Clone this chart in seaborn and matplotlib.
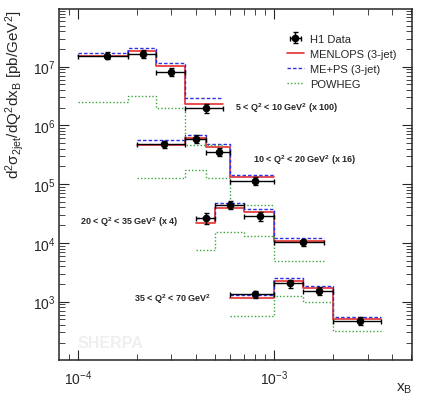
import numpy as np
import pandas as pd
import matplotlib
matplotlib.use("Agg")
import matplotlib.pyplot as plt
import seaborn as sns
from matplotlib.lines import Line2D
from matplotlib.ticker import LogLocator, NullFormatter

# =====================
# 1. DATA
# =====================
# x_B bin edges for the four Q^2 ranges
edges_q1 = [1.0e-4, 1.8e-4, 2.5e-4, 3.5e-4, 5.5e-4]
edges_q2 = [2.0e-4, 3.5e-4, 4.5e-4, 6.0e-4, 1.0e-3]
edges_q3 = [4.0e-4, 5.0e-4, 7.0e-4, 1.0e-3, 1.8e-3]
edges_q4 = [6.0e-4, 1.0e-3, 1.4e-3, 2.0e-3, 3.5e-3]

scale_factors = [100, 16, 4, 1]

# unscaled cross sections [pb/GeV^2]
h1_q1 = [1.54e5, 1.65e5, 8.2e4, 1.96e4]
h1_q2 = [3.0e4, 3.7e4, 2.23e4, 7.1e3]
h1_q3 = [6.6e3, 1.12e4, 7.1e3, 2.55e3]
h1_q4 = [1.34e3, 2.04e3, 1.53e3, 471]

h1_err_q1 = [0.14, 0.14, 0.14, 0.17]
h1_err_q2 = [0.14, 0.14, 0.15, 0.15]
h1_err_q3 = [0.20, 0.15, 0.17, 0.13]
h1_err_q4 = [0.14, 0.15, 0.16, 0.15]

menlops_q1 = [1.50e5, 1.83e5, 1.04e5, 2.32e4]
menlops_q2 = [2.9e4, 3.8e4, 2.65e4, 8.2e3]
menlops_q3 = [5.4e3, 9.7e3, 8.3e3, 2.72e3]
menlops_q4 = [1.15e3, 2.21e3, 1.68e3, 503]

meps_q1 = [1.69e5, 2.11e5, 1.17e5, 2.90e4]
meps_q2 = [3.56e4, 4.34e4, 3.01e4, 9.1e3]
meps_q3 = [6.6e3, 1.18e4, 9.4e3, 3.0e3]
meps_q4 = [1.31e3, 2.48e3, 1.84e3, 551]

powheg_q1 = [2.48e4, 3.13e4, 1.96e4, 4.63e3]
powheg_q2 = [7.9e3, 1.09e4, 7.9e3, 2.76e3]
powheg_q3 = [1.9e3, 3.8e3, 3.3e3, 1.24e3]
powheg_q4 = [560, 1.23e3, 969, 310]

q2_labels = [
    r"5 < Q$^\mathbf{2}$ < 10 GeV$^\mathbf{2}$ (x 100)",
    r"10 < Q$^\mathbf{2}$ < 20 GeV$^\mathbf{2}$ (x 16)",
    r"20 < Q$^\mathbf{2}$ < 35 GeV$^\mathbf{2}$ (x 4)",
    r"35 < Q$^\mathbf{2}$ < 70 GeV$^\mathbf{2}$",
]

edges = [edges_q1, edges_q2, edges_q3, edges_q4]
h1 = [h1_q1, h1_q2, h1_q3, h1_q4]
h1_err = [h1_err_q1, h1_err_q2, h1_err_q3, h1_err_q4]
models = {
    "MENLOPS (3-jet)": [menlops_q1, menlops_q2, menlops_q3, menlops_q4],
    "ME+PS (3-jet)": [meps_q1, meps_q2, meps_q3, meps_q4],
    "POWHEG": [powheg_q1, powheg_q2, powheg_q3, powheg_q4],
}
model_style = {
    "MENLOPS (3-jet)": dict(color="#e5302e", linestyle="-", linewidth=1.2),
    "ME+PS (3-jet)": dict(color="#3030e6", linestyle=(0, (2.5, 1.5)), linewidth=1.0),
    "POWHEG": dict(color="#3aa53a", linestyle=(0, (1, 1.5)), linewidth=1.0),
}


def step_frame(vals_by_group):
    rows = []
    for g, (e, v) in enumerate(zip(edges, vals_by_group)):
        yy = list(np.array(v) * scale_factors[g])
        yy = yy + [yy[-1]]
        for xx, y in zip(e, yy):
            rows.append({"x": xx, "y": y, "group": g})
    return pd.DataFrame(rows)


# =====================
# 2. PLOT
# =====================
sns.set_style("ticks")
plt.rcParams["font.family"] = ["Liberation Sans", "DejaVu Sans"]
plt.rcParams["mathtext.fontset"] = "custom"
plt.rcParams["mathtext.rm"] = "Liberation Sans"
plt.rcParams["mathtext.it"] = "Liberation Sans"
plt.rcParams["mathtext.bf"] = "Liberation Sans:bold"

fig = plt.figure(figsize=(4.27, 4.06), dpi=100)
ax = fig.add_axes([0.139, 0.111, 0.826, 0.864])

for name, vals in models.items():
    st = model_style[name]
    sns.lineplot(data=step_frame(vals), x="x", y="y", units="group",
                 estimator=None, drawstyle="steps-post", legend=False,
                 ax=ax, **st)

data_handle = None
for g in range(4):
    e = np.array(edges[g])
    lo, hi = e[:-1], e[1:]
    xc = (lo + hi) / 2
    y = np.array(h1[g]) * scale_factors[g]
    yerr = y * np.array(h1_err[g])
    data_handle = ax.errorbar(xc, y, xerr=[xc - lo, hi - xc], yerr=yerr,
                              fmt="o", color="black", ms=4.5, lw=1.0,
                              capsize=1.8, capthick=1.0, zorder=5)

ax.set_xscale("log")
ax.set_yscale("log")
ax.set_xlim(8.04e-5, 5.06e-3)
ax.set_ylim(101.6, 9.5e7)
ax.set_xlabel("")
ax.set_ylabel("")

ax.xaxis.set_minor_locator(LogLocator(base=10, subs=np.arange(2, 10)))
ax.yaxis.set_minor_locator(LogLocator(base=10, subs=np.arange(2, 10), numticks=20))
ax.xaxis.set_minor_formatter(NullFormatter())
ax.yaxis.set_minor_formatter(NullFormatter())
ax.tick_params(which="both", direction="in", top=True, right=True, labelsize=10)
ax.tick_params(which="major", length=7, width=0.8)
ax.tick_params(which="minor", length=4, width=0.6)
ax.tick_params(axis="x", which="major", pad=6)
ax.tick_params(axis="y", which="major", pad=3)
for sp in ax.spines.values():
    sp.set_linewidth(1.1)

# group labels
label_pos = [(235, 108), (253, 160.5), (80, 222), (134, 299)]
for (px, py), txt in zip(label_pos, q2_labels):
    ax.text((px - 59.3) / 352.7, (361 - py) / 351, txt, transform=ax.transAxes,
            fontsize=6.5, fontweight="bold", ha="left", va="center")

ax.text((77 - 59.3) / 352.7, (361 - 344) / 351, "SHERPA", transform=ax.transAxes,
        fontsize=11.5, fontweight="bold", color="#efefef", ha="left", va="center")

handles = [data_handle] + [Line2D([], [], **model_style[n]) for n in models]
labels = ["H1 Data"] + list(models.keys())
ax.legend(handles, labels, loc="upper left", bbox_to_anchor=(0.645, 0.93),
          frameon=False, fontsize=8, handlelength=1.5, handletextpad=0.6,
          labelspacing=0.45, borderpad=0, borderaxespad=0)

fig.text(15 / 427, 1 - 10 / 406,
         r"d$^2\sigma_{2jet}$/dQ$^2$dx$_B$ [pb/GeV$^2$]",
         rotation=90, ha="center", va="top", fontsize=11)
fig.text(412 / 427, 1 - 389 / 406, r"x$_B$", ha="right", va="center", fontsize=11)

fig.savefig("out.png", dpi=100)
